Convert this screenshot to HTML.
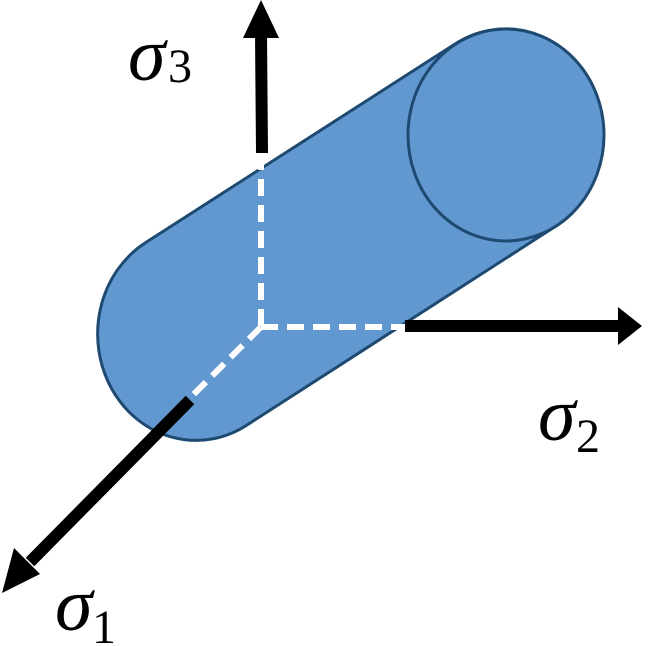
<!DOCTYPE html>
<html><head><style>
html,body{margin:0;padding:0;background:#fff;}
svg{display:block;}
.s{font-family:"Liberation Serif",serif;font-style:italic;font-size:76px;fill:#000;}
.n{font-family:"Liberation Serif",serif;font-size:48px;fill:#000;}
</style></head><body>
<svg width="656" height="646" viewBox="0 0 656 646" xmlns="http://www.w3.org/2000/svg">
<path d="M455,44 L145,243 A98,106 0 0 0 247,425 L556,226 A98,106 0 0 0 455,44 Z" fill="#6198d0" stroke="#1e4a72" stroke-width="3"/>
<ellipse cx="506" cy="135" rx="98" ry="106" fill="#6198d0" stroke="#1e4a72" stroke-width="3"/>
<g stroke="#fff" stroke-width="6" stroke-dasharray="17,9" fill="none">
<line x1="261" y1="153" x2="261" y2="327"/>
<line x1="261" y1="327" x2="405" y2="327"/>
<line x1="261" y1="327" x2="190" y2="398"/>
</g>
<g stroke="#000" stroke-width="12" fill="none">
<line x1="262" y1="153" x2="261" y2="34"/>
<line x1="405" y1="326" x2="622" y2="326"/>
<line x1="190" y1="400" x2="30" y2="562"/>
</g>
<polygon points="261,0 279,38 243,38" fill="#000"/>
<polygon points="642,326 618,307 618,345" fill="#000"/>
<polygon points="2,593 14,548 40,574" fill="#000"/>
<text class="s" x="128" y="80">σ</text><text class="n" x="168" y="82">3</text>
<text class="s" x="538" y="440">σ</text><text class="n" x="576" y="452">2</text>
<text class="s" x="55" y="630">σ</text><text class="n" x="92" y="643">1</text>
</svg>
</body></html>
